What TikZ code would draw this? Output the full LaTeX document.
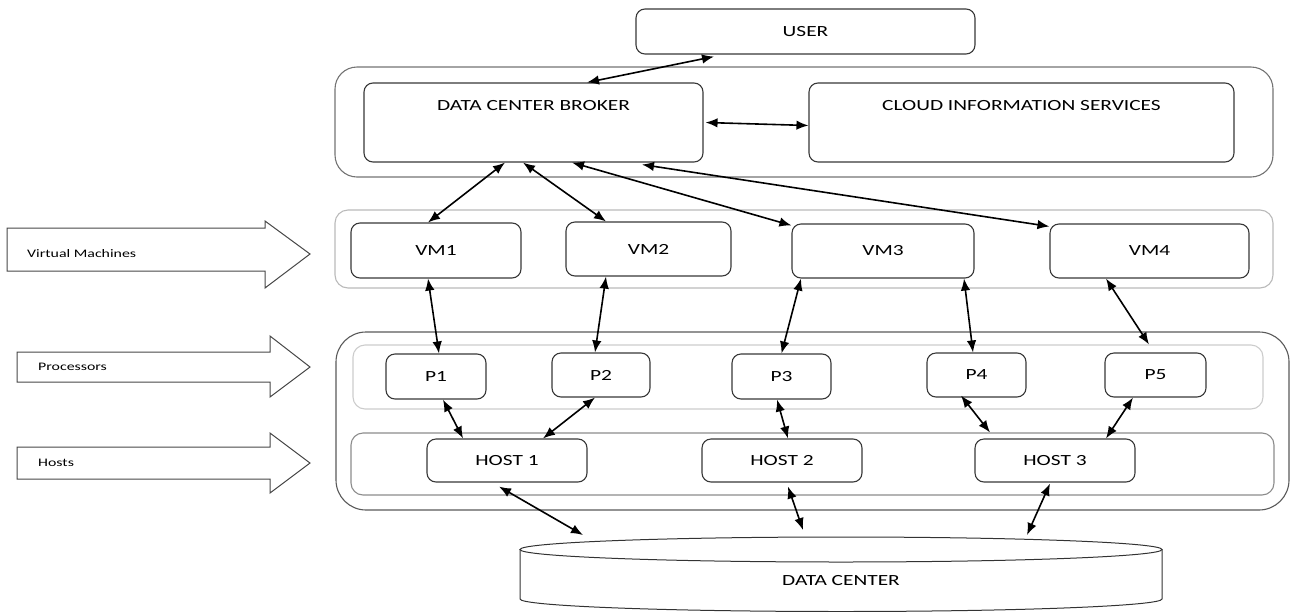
\documentclass[tikz,border=0pt]{standalone}
\usepackage{fontspec}
\setmainfont{Carlito}
\newfontfamily\lbl[FakeStretch=1.38]{Carlito}
\usetikzlibrary{arrows.meta}
\begin{document}
\begin{tikzpicture}[x=1pt,y=-1pt,
  box/.style={draw=black!78, line width=1.1pt, rounded corners=9pt, inner sep=0pt, fill=white,
              font=\lbl\fontsize{15.5}{18}\selectfont},
  cont/.style={draw=#1, line width=1.1pt, inner sep=0pt},
  link/.style={line width=1.6pt, {Latex[length=12pt,width=9.5pt]}-{Latex[length=12pt,width=9.5pt]}},
  side/.style={draw=black!72, line width=1pt, fill=white},
  sidelbl/.style={anchor=west, inner sep=0pt, font=\lbl\fontsize{11.5}{14}\selectfont},
  cyl/.style={draw=black!80, line width=1pt}]
\useasboundingbox (0,0) rectangle (1291,611);

% containers
\node[cont=black!55, rounded corners=22pt, minimum width=938pt, minimum height=110pt] (brk) at (804,122) {};
\node[cont=black!27, rounded corners=13pt, minimum width=938pt, minimum height=78pt] (vms) at (804,249) {};
\node[cont=black!65, rounded corners=30pt, minimum width=953pt, minimum height=178pt] (hw) at (812.5,421) {};
\node[cont=black!20, rounded corners=12pt, minimum width=910pt, minimum height=64pt] (procs) at (808,377) {};
\node[cont=black!45, rounded corners=12pt, minimum width=923pt, minimum height=62pt] (hosts) at (812.5,464) {};

% boxes
\node[box, minimum width=339pt, minimum height=45pt] (user) at (805.5,31.5) {USER};
\node[box, minimum width=339pt, text height=27pt, text depth=52pt] (dcb) at (533.5,122.5) {DATA CENTER BROKER};
\node[box, minimum width=425pt, text height=27pt, text depth=52pt] (cis) at (1021.5,122.5) {CLOUD INFORMATION SERVICES};

\node[box, minimum width=170pt, minimum height=55pt] (vm1) at (436,250.5) {VM1};
\node[box, minimum width=165pt, minimum height=54pt] (vm2) at (648.5,249) {VM2};
\node[box, minimum width=182pt, minimum height=54pt] (vm3) at (883,251) {VM3};
\node[box, minimum width=199pt, minimum height=54pt] (vm4) at (1149.5,251) {VM4};

\node[box, minimum width=100pt, minimum height=45pt] (p1) at (436,376.5) {P1};
\node[box, minimum width=98pt, minimum height=44pt] (p2) at (601,375) {P2};
\node[box, minimum width=99pt, minimum height=45pt] (p3) at (781.5,376.5) {P3};
\node[box, minimum width=99pt, minimum height=44pt] (p4) at (976.5,375) {P4};
\node[box, minimum width=101pt, minimum height=44pt] (p5) at (1155.5,375) {P5};

\node[box, minimum width=160pt, minimum height=43pt] (h1) at (507,460.5) {HOST 1};
\node[box, minimum width=160pt, minimum height=43pt] (h2) at (782,460.5) {HOST 2};
\node[box, minimum width=160pt, minimum height=43pt] (h3) at (1055,460.5) {HOST 3};

% data center cylinder
\draw[cyl] (841,549.5) ellipse [x radius=321pt, y radius=12.5pt];
\draw[cyl] (520,549.5) -- (520,599) arc[start angle=180, end angle=360, x radius=321pt, y radius=12.5pt] -- (1162,549.5);
\node[inner sep=0pt, font=\lbl\fontsize{15.5}{18}\selectfont] (dc) at (841,581) {DATA CENTER};
\coordinate (dc1) at (583,535);
\coordinate (dc2) at (803,530);
\coordinate (dc3) at (1027,535);

% side arrows
\draw[side] (7,228) -- (265,228) -- (265,221) -- (310,254) -- (265,288) -- (265,271) -- (7,271) -- cycle;
\node[sidelbl] (lvm) at (27,254) {Virtual Machines};
\draw[side] (17,352) -- (270,352) -- (270,336) -- (310,367) -- (270,397) -- (270,382) -- (17,382) -- cycle;
\node[sidelbl] (lproc) at (38,367) {Processors};
\draw[side] (17,447) -- (270,447) -- (270,433) -- (310,463) -- (270,493) -- (270,479) -- (17,479) -- cycle;
\node[sidelbl] (lhost) at (38,463) {Hosts};

% connectors
\draw[link] ([xshift=-91.5pt,yshift=-2pt]user.south) -- ([xshift=53.5pt]dcb.north);
\draw[link] ([xshift=2pt]dcb.east) -- ([yshift=-3pt]cis.west);
\draw[link] ([xshift=-28.5pt]dcb.south) -- ([xshift=-8pt]vm1.north);
\draw[link] ([xshift=-10.5pt]dcb.south) -- ([xshift=-42.5pt]vm2.north);
\draw[link] ([xshift=38.5pt]dcb.south) -- ([yshift=-2pt]vm3.north west);
\draw[link] ([xshift=108.5pt,yshift=-2pt]dcb.south) -- ([yshift=-3pt]vm4.north west);

\draw[link] ([xshift=-8pt]vm1.south) -- ([xshift=3pt]p1.north);
\draw[link] ([xshift=-42.5pt]vm2.south) -- ([xshift=-6pt]p2.north);
\draw[link] ([xshift=-82pt]vm3.south) -- (p3.north);
\draw[link] ([xshift=81pt]vm3.south) -- ([xshift=-3.5pt]p4.north);
\draw[link] ([xshift=-43.5pt]vm4.south) -- ([xshift=341pt]procs.north);

\draw[link] ([xshift=7pt]p1.south) -- ([xshift=-44pt]h1.north);
\draw[link] ([xshift=-6pt]p2.south) -- ([xshift=36pt]h1.north);
\draw[link] ([xshift=-4.5pt]p3.south) -- ([xshift=6pt]h2.north);
\draw[link] ([xshift=-15.5pt,yshift=2pt]p4.south) -- ([xshift=177.5pt]hosts.north);
\draw[link] ([xshift=-22.5pt]p5.south) -- ([xshift=51pt]h3.north);

\draw[link] ([xshift=-8pt,yshift=-4pt]h1.south) -- (dc1);
\draw[link] ([xshift=6pt,yshift=-4pt]h2.south) -- (dc2);
\draw[link] ([xshift=-5pt,yshift=-1pt]h3.south) -- (dc3);
\end{tikzpicture}
\end{document}
